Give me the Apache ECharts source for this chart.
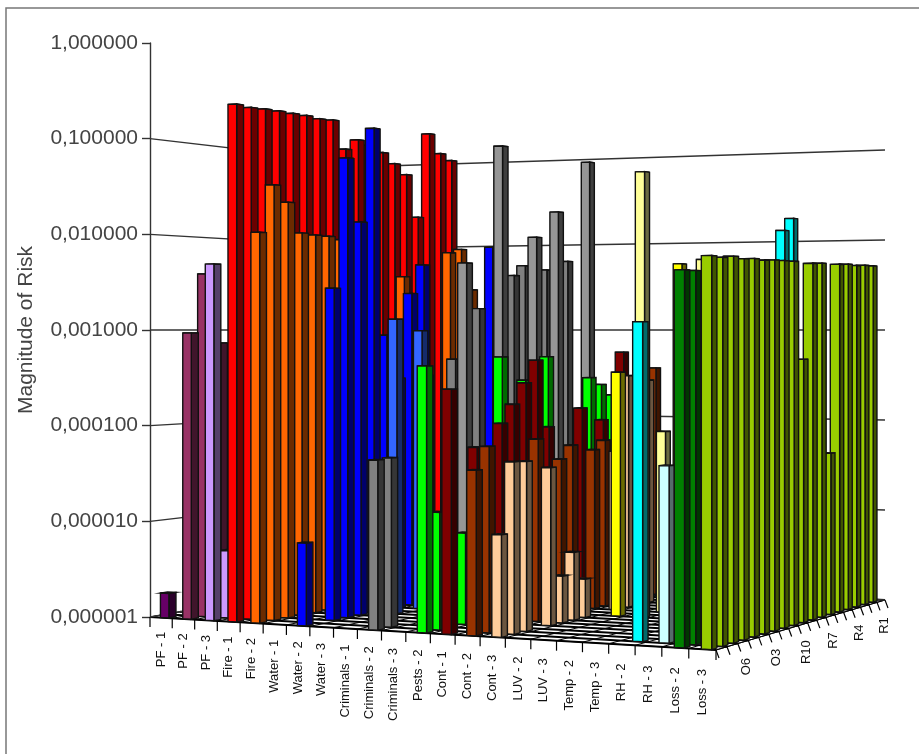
<!DOCTYPE html>
<html>
<head>
<meta charset="utf-8">
<style>html,body{margin:0;padding:0;background:#fff}#chart{width:919px;height:754px}</style>
<script src="https://cdn.jsdelivr.net/npm/echarts@6/dist/echarts.min.js"></script>
</head>
<body>
<div id="chart"></div>
<script>
const _ = null;
const categories = ['PF - 1','PF - 2','PF - 3','Fire - 1','Fire - 2','Water - 1','Water - 2','Water - 3','Criminals - 1','Criminals - 2','Criminals - 3','Pests - 2','Cont - 1','Cont - 2','Cont - 3','LUV - 2','LUV - 3','Temp - 2','Temp - 3','RH - 2','RH - 3','Loss - 2','Loss - 3'];
// rows go front to back
const rows = ['O8','O7','O6','O5','O4','O3','O2','O1','R10','R9','R8','R7','R6','R5','R4','R3','R2','R1'];
const rowLabels = ['O6','O3','R10','R7','R4','R1'];
const yTicks = [0.000001,0.00001,0.0001,0.001,0.01,0.1,1];

const pf1 = [0.0000018,_,_,_,_,_,_,_,_,_,_,_,_,_,_,_,_,_];
const pf2 = [0.00093,0.00386,0.00073,_,_,_,_,_,_,_,_,_,_,_,_,_,_,_];
const pf3 = [0.0048,0.000005,_,_,_,_,_,_,_,_,_,_,_,_,_,_,_,_];
const fire1 = [0.21,0.204,0.207,0.207,0.205,0.204,0.197,0.2,0.1,0.132,0.12,0.103,0.08,0.062,0.0205,0.2,0.122,0.105];
const fire2 = [0.01,0.0316,0.0215,0.0105,0.0102,0.0101,0.0095,0.0095,0.0095,_,_,0.004,_,0.0003,_,0.008,0.0089,0.003];
const water1 = [_,_,_,_,_,_,_,_,_,_,_,_,_,_,_,_,_,_];
const water2 = [0.0000069,_,0.0027,0.0624,0.0137,0.139,0.00088,0.0003,0.0025,0.0052,_,_,_,_,_,0.0091,_,_];
const water3 = [_,_,_,_,_,0.0013,_,0.00098,_,_,_,_,_,_,_,_,_,_];
const crim1 = [_,_,_,_,_,_,_,_,_,_,_,_,_,_,_,_,_,_];
const crim2 = [0.00005,0.000051,_,_,_,_,0.00049,_,0.0017,_,_,0.004,0.0052,_,0.0048,0.00085,0.0062,_];
const crim3 = [_,_,_,_,_,0.005,_,_,0.094,_,_,0.0105,_,0.021,_,_,0.085,_];
const pests2 = [0.00044,0.000015,_,0.0000085,_,_,0.00052,_,0.00029,_,0.00051,_,_,_,0.00029,0.00024,0.00018,_];
const cont1 = [0.00026,_,0.000066,_,0.00011,0.00017,0.00028,0.00048,0.000093,_,_,0.00014,_,0.0001,_,0.00056,_,_];
const cont2 = [0.000042,0.00007,_,_,_,0.000075,_,0.000044,0.00006,_,0.000051,0.000063,_,_,_,_,0.00037,_];
const cont3 = [0.00001,0.00005,0.000049,_,0.00004,0.000003,0.000005,0.0000025,_,_,0.00005,0.00032,_,0.00028,_,_,_,_];
const luv2 = [_,_,_,_,_,_,_,_,0.00036,_,_,_,_,_,0.0054,_,_,_];
const luv3 = [_,_,_,_,_,_,_,_,0.045,_,0.000083,_,_,_,0.006,_,_,_];
const temp2 = [_,_,_,_,_,_,_,_,_,_,_,_,_,_,_,_,_,_];
const temp3 = [_,_,_,_,_,_,_,_,_,_,_,_,_,_,_,_,_,_];
const rh2 = [_,0.0012,_,_,_,_,_,_,_,_,_,_,_,_,_,0.0124,0.0172,_];
const rh3 = [_,0.00005,_,_,_,_,_,_,_,_,_,_,_,_,_,_,_,_];
const loss2 = [0.0037,0.0037,0.0037,0.0037,0.0037,0.0037,0.0037,0.0037,0.0037,_,_,_,_,_,_,_,_,_];
const loss3 = [0.005,0.0049,0.0051,0.0049,0.005,0.0049,0.005,0.005,0.005,0.0005,0.0049,0.005,0.00005,0.005,0.0051,0.005,0.0051,0.0051];

const table = [pf1,pf2,pf3,fire1,fire2,water1,water2,water3,crim1,crim2,crim3,pests2,cont1,cont2,cont3,luv2,luv3,temp2,temp3,rh2,rh3,loss2,loss3];
const colors = ['#660066','#993366','#CC99FF','#FF0000','#FF6600','#FF6600','#0000FF','#3366FF','#0000FF','#808080','#969696','#00FF00','#800000','#993300','#FFCC99','#FFFF00','#FFFF99','#FFCC99','#FFCC99','#00FFFF','#CCFFFF','#008000','#99CC00'];

// floor corners on screen, eye level on the value axis is 0,001
const FL = [150,617], FR = [716,650], BR = [885,600], BL = [385,576];
const gridLeft = 150, gridTop = 43, gridW = 566, gridH = 574;
const decades = 6, eyeDec = 3;
const eyeY = FL[1]-eyeDec*gridH/decades;

// unit square -> floor quadrilateral
const H = (function () {
  const dx1 = FR[0]-BR[0], dx2 = BL[0]-BR[0], sx = FL[0]-FR[0]+BR[0]-BL[0];
  const dy1 = FR[1]-BR[1], dy2 = BL[1]-BR[1], sy = FL[1]-FR[1]+BR[1]-BL[1];
  const d = dx1*dy2-dx2*dy1;
  const g = (sx*dy2-dx2*sy)/d, h = (dx1*sy-sx*dy1)/d;
  return {a:FR[0]-FL[0]+g*FR[0], b:BL[0]-FL[0]+h*BL[0], c:FL[0], d:FR[1]-FL[1]+g*FR[1], e:BL[1]-FL[1]+h*BL[1], f:FL[1], g, h};
})();
// dec = decades above eye level
function project(u, v, dec) {
  const w = H.g*u+H.h*v+1;
  const x = (H.a*u+H.b*v+H.c)/w, y = (H.d*u+H.e*v+H.f)/w;
  const s = (y-eyeY)/eyeDec;
  return [x, eyeY-dec*s];
}
function decOf(api, value) {
  return (gridTop+gridH-api.coord([0,value])[1])/(gridH/decades);
}
function shade(hex, k) {
  const n = parseInt(hex.slice(1),16);
  const c = [n>>16,(n>>8)&255,n&255].map(function (x) { return Math.round(x*k); });
  return 'rgb('+c.join(',')+')';
}

const barData = [];
for (let j = rows.length-1; j >= 0; j--) {
  for (let i = 0; i < categories.length; i++) {
    if (table[i][j] !== null) barData.push([i,j,table[i][j]]);
  }
}

function renderBar(params, api) {
  const i = api.value(0), j = api.value(1);
  const band = gridW/categories.length;
  const left = api.coord([i,1])[0]-band/2-gridLeft;
  const u0 = (left+0.45*band)/gridW, u1 = (left+0.83*band)/gridW;
  const v0 = (j+0.03)/rows.length, v1 = (j+0.5)/rows.length;
  const d = decOf(api, api.value(2))-eyeDec, b = -eyeDec;
  const col = colors[i], st = '#111';
  const poly = function (pts, fill) {
    return {type:'polygon', shape:{points:pts}, style:{fill:fill, stroke:st, lineWidth:1.4}};
  };
  return {type:'group', children:[
    poly([project(u0,v0,d),project(u1,v0,d),project(u1,v1,d),project(u0,v1,d)], col),
    poly([project(u1,v0,b),project(u1,v1,b),project(u1,v1,d),project(u1,v0,d)], shade(col,0.42)),
    poly([project(u0,v0,b),project(u1,v0,b),project(u1,v0,d),project(u0,v0,d)], col)
  ]};
}

function renderWall(params, api) {
  const d = decOf(api, api.value(0))-eyeDec;
  return {type:'polyline', shape:{points:[project(0,0,d),project(0,1,d),project(1,1,d)]}, style:{fill:'none', stroke:'#333', lineWidth:1.4}};
}

function renderFloor() {
  const kids = [];
  const b = -eyeDec;
  kids.push({type:'polygon', shape:{points:[project(0,0,b),project(1,0,b),project(1,1,b),project(0,1,b)]}, style:{fill:'#fff', stroke:'#000', lineWidth:1}});
  const line = function (a, c, w) {
    kids.push({type:'line', shape:{x1:a[0],y1:a[1],x2:c[0],y2:c[1]}, style:{stroke:'#000', lineWidth:w||1}});
  };
  for (let j = 0; j <= rows.length; j++) {
    line(project(0,j/rows.length,b), project(1,j/rows.length,b), 2);
    const p = project(1,j/rows.length,b);
    line(p, [p[0]+3,p[1]+8], 1.2);
    const lab = rows[j];
    if (rowLabels.indexOf(lab) >= 0) {
      const m = project(1,(j+0.5)/rows.length,b);
      kids.push({type:'text', x:m[0]+3, y:m[1]+16, rotation:Math.PI/2, style:{text:lab, font:'13px "Liberation Sans"', fill:'#111', align:'right', verticalAlign:'middle'}});
    }
  }
  for (let i = 0; i <= categories.length; i++) {
    const u = i/categories.length;
    line(project(u,0,b), project(u,1,b), 1);
    const p = project(u,0,b);
    line(p, [p[0],p[1]+10], 1.2);
    if (i < categories.length) {
      const um = (i+0.5)/categories.length;
      const m = project(um,0,b);
      kids.push({type:'text', x:m[0], y:m[1]+14+6*um, rotation:Math.PI/2, style:{text:categories[i], font:'13px "Liberation Sans"', fill:'#111', align:'right', verticalAlign:'middle'}});
    }
  }
  return {type:'group', children:kids};
}

const chart = echarts.init(document.getElementById('chart'));
chart.setOption({
  animation: false,
  backgroundColor: '#fff',
  graphic: [{type:'rect', shape:{x:6,y:8,width:1000,height:1000}, style:{fill:'none', stroke:'#777', lineWidth:1.5}, silent:true}],
  grid: {left:gridLeft, top:gridTop, width:gridW, height:gridH},
  xAxis: {type:'category', data:categories, show:false},
  yAxis: {
    type:'log', logBase:10, min:0.000001, max:1,
    name:'Magnitude of Risk', nameLocation:'middle', nameGap:113,
    nameTextStyle:{fontFamily:'Liberation Sans', fontSize:21, color:'#444'},
    axisLine:{show:true, lineStyle:{color:'#333', width:1.4}},
    axisTick:{show:true, length:8, lineStyle:{color:'#333', width:1.4}},
    axisLabel:{fontFamily:'Liberation Sans', fontSize:21, color:'#444', margin:12,
      formatter:function (v) { return v.toFixed(6).replace('.',','); }},
    splitLine:{show:false}, minorTick:{show:false}
  },
  series: [
    {type:'custom', silent:true, z:1, renderItem:renderFloor, data:[[0,1]], encode:{x:0,y:1}},
    {type:'custom', silent:true, z:2, renderItem:renderWall, data:yTicks.slice(0,-1).map(function (t) { return [t]; }), encode:{y:0}},
    {type:'custom', silent:true, z:3, renderItem:renderBar, data:barData, encode:{x:0,y:2}}
  ]
});
</script>
</body>
</html>
